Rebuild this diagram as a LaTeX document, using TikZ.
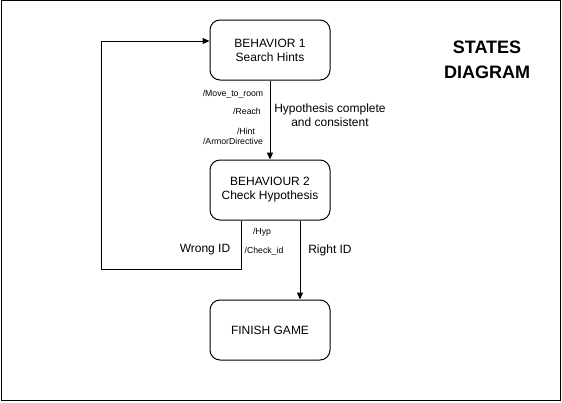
\documentclass[tikz,border=0pt]{standalone}
\usepackage{fontspec}
\setmainfont{Liberation Sans}
\usetikzlibrary{arrows.meta}
\begin{document}
\begin{tikzpicture}[x=1pt,y=-1pt,
  state/.style={draw,line width=1pt,rounded corners=10pt,minimum width=120pt,minimum height=60pt,align=center,font=\fontsize{12}{14}\selectfont,inner sep=0pt},
  conn/.style={line width=1pt,-{Triangle[length=7pt,width=6pt]}},
  small/.style={font=\fontsize{8.7}{10}\selectfont,inner sep=0pt},
  lbl/.style={font=\fontsize{12}{14.5}\selectfont,inner sep=0pt,align=center}]
\useasboundingbox (0,0) rectangle (562,402);
\draw[line width=1pt] (1,0.5) rectangle (560.5,400.5);
\node[state] (b1) at (270,50) {BEHAVIOR 1\\Search Hints};
\node[state] (b2) at (270,190) {BEHAVIOUR 2\\Check Hypothesis};
\node[state] (b3) at (270,330) {FINISH GAME};
\coordinate (w1) at (241,269);
\coordinate (w2) at (101,269);
\coordinate (w3) at (101,41);
\draw[conn] (b1.south) -- (b2.north);
\draw[conn] (b2.south -| 300,0) -- (b3.north -| 300,0);
\draw[conn] (b2.south -| w1) -- (w1) -- (w2) -- (w3) -- (w3 -| b1.west);
\node[small] (l1) at (233,94) {/Move\_to\_room};
\node[small] (l2) at (247,111) {/Reach};
\node[small] (l3) at (246,131) {/Hint};
\node[small] (l4) at (233,141) {/ArmorDirective};
\node[lbl] (h) at (330,115) {Hypothesis complete\\and consistent};
\node[small] (l5) at (262,232) {/Hyp};
\node[small] (l6) at (264,251) {/Check\_id};
\node[lbl] (wr) at (205,250) {Wrong ID};
\node[lbl] (ri) at (330,250) {Right ID};
\node[font=\fontsize{18}{25}\selectfont\bfseries,align=center,inner sep=0pt] (t) at (487,60) {STATES\\DIAGRAM};
\end{tikzpicture}
\end{document}
